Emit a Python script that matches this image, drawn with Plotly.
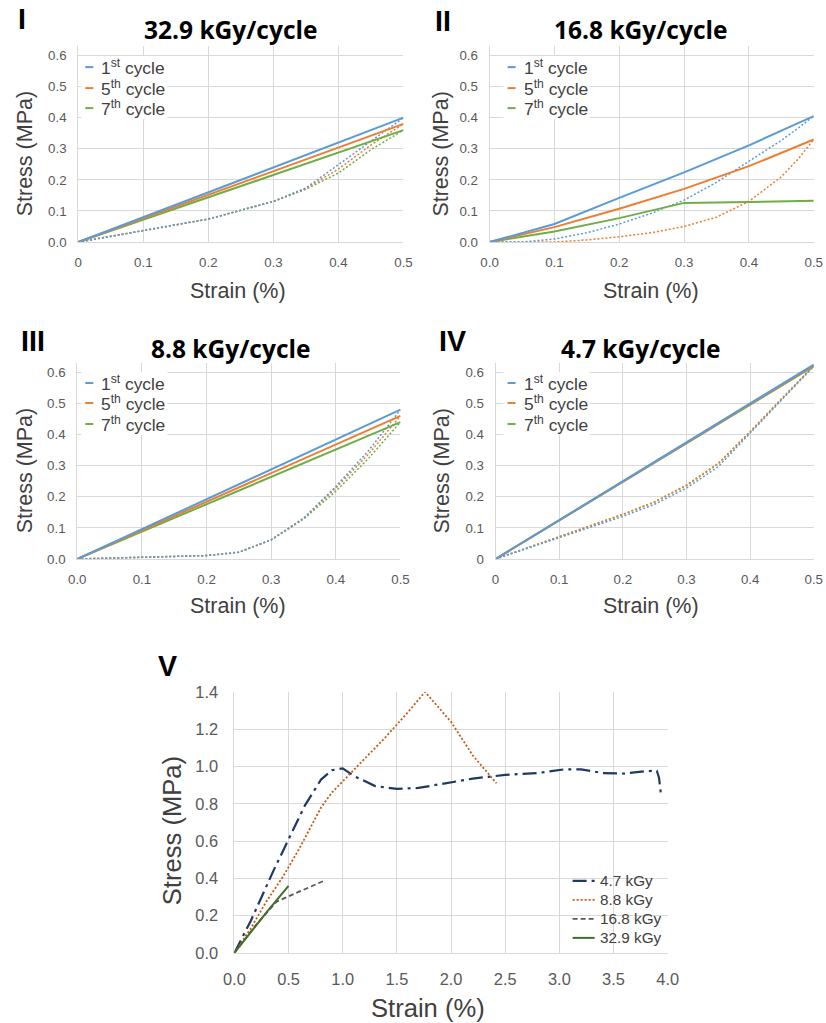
import plotly.graph_objects as go

# Layout positions below are given in final-image pixels (826x1023 frame).
# The page is laid out on an 849x1041 canvas (8px body margin) and shown in that frame,
# so positions and font sizes are converted through the frame scale.
FRAME_W, FRAME_H = 826, 1023
CANVAS_W, CANVAS_H = 849, 1041
SX, SY = FRAME_W / CANVAS_W, FRAME_H / CANVAS_H
OX = 3
PAD = 8
W, H = CANVAS_W - 2 * PAD, CANVAS_H - 2 * PAD
FS = 2 / (SX + SY)  # font scale

BLUE = "#5B9BD5"
ORANGE = "#ED7D31"
GREEN = "#70AD47"
GRID = "#D9D9D9"
TICK = "#595959"
TXT = "#404040"
SANS = "Liberation Sans, Arial, sans-serif"
TITLE_FONT = "Open Sans, sans-serif"

# ---------------- data ----------------
cycle_names = ["1<sup>st</sup> cycle", "5<sup>th</sup> cycle", "7<sup>th</sup> cycle"]
cycle_colors = [BLUE, ORANGE, GREEN]

# Panel I - 32.9 kGy/cycle
p1_load_strain = [0, 0.5]
p1_load = [[0, 0.40], [0, 0.38], [0, 0.36]]
p1_unload_strain = [0, 0.1, 0.2, 0.3, 0.35, 0.4, 0.45, 0.5]
p1_unload = [
    [0, 0.036, 0.074, 0.131, 0.174, 0.249, 0.324, 0.40],
    [0, 0.036, 0.074, 0.131, 0.172, 0.235, 0.312, 0.38],
    [0, 0.036, 0.074, 0.130, 0.170, 0.222, 0.297, 0.36],
]

# Panel II - 16.8 kGy/cycle
p2_load_strain = [0, 0.1, 0.2, 0.3, 0.4, 0.5]
p2_load = [
    [0, 0.058, 0.142, 0.224, 0.311, 0.405],
    [0, 0.048, 0.107, 0.171, 0.244, 0.330],
    [0, 0.034, 0.077, 0.126, 0.129, 0.133],
]
p2_unload_strain = [0, 0.05, 0.1, 0.15, 0.2, 0.25, 0.3, 0.35, 0.4, 0.45, 0.475, 0.5]
p2_unload = [
    [0, 0.0, 0.010, 0.030, 0.058, 0.093, 0.135, 0.192, 0.260, 0.327, 0.365, 0.405],
    [0, 0.0, 0.0, 0.007, 0.017, 0.030, 0.050, 0.080, 0.131, 0.210, 0.265, 0.330],
]

# Panel III - 8.8 kGy/cycle
p3_load_strain = [0, 0.5]
p3_load = [[0, 0.48], [0, 0.46], [0, 0.44]]
p3_unload_strain = [0, 0.1, 0.2, 0.25, 0.3, 0.35, 0.4, 0.45, 0.5]
p3_unload = [
    [0, 0.005, 0.011, 0.022, 0.062, 0.131, 0.233, 0.347, 0.48],
    [0, 0.005, 0.011, 0.022, 0.062, 0.130, 0.228, 0.336, 0.46],
    [0, 0.005, 0.011, 0.021, 0.061, 0.128, 0.218, 0.322, 0.44],
]

# Panel IV - 4.7 kGy/cycle
p4_load_strain = [0, 0.5]
p4_load = [[0, 0.625], [0, 0.622], [0, 0.620]]
p4_unload_strain = [0, 0.1, 0.2, 0.25, 0.3, 0.35, 0.4, 0.45, 0.5]
p4_unload = [
    [0, 0.069, 0.137, 0.176, 0.228, 0.297, 0.404, 0.512, 0.62],
    [0, 0.071, 0.144, 0.184, 0.238, 0.308, 0.410, 0.517, 0.622],
    [0, 0.071, 0.143, 0.183, 0.236, 0.306, 0.408, 0.515, 0.620],
]

# Panel V - stress-strain to failure
v_names = ["4.7 kGy", "8.8 kGy", "16.8 kGy", "32.9 kGy"]
v_47_strain = [0, 0.15, 0.36, 0.5, 0.65, 0.8, 0.9, 1.0, 1.1, 1.3, 1.5, 1.7, 1.9,
               2.2, 2.5, 2.8, 3.05, 3.2, 3.4, 3.6, 3.8, 3.9, 3.92, 3.94]
v_47_stress = [0, 0.17, 0.44, 0.61, 0.79, 0.93, 0.98, 0.99, 0.95, 0.895, 0.88, 0.885, 0.905,
               0.935, 0.955, 0.965, 0.985, 0.985, 0.965, 0.962, 0.975, 0.977, 0.94, 0.84]
v_88_strain = [0, 0.15, 0.3, 0.45, 0.6, 0.8, 0.9, 1.0, 1.2, 1.4, 1.6, 1.76, 2.0, 2.2, 2.42]
v_88_stress = [0, 0.13, 0.28, 0.41, 0.56, 0.78, 0.86, 0.92, 1.04, 1.16, 1.29, 1.40, 1.24, 1.06, 0.91]
v_168_strain = [0, 0.2, 0.39, 0.6, 0.82]
v_168_stress = [0, 0.15, 0.275, 0.33, 0.385]
v_329_strain = [0, 0.1, 0.3, 0.4, 0.5]
v_329_stress = [0, 0.075, 0.22, 0.29, 0.36]

V_STYLES = [
    dict(color="#203864", width=2.2, dash="14px,5px,3px,5px"),
    dict(color="#C55A11", width=1.8, dash="2px,2px"),
    dict(color="#595959", width=1.8, dash="5px,3px"),
    dict(color="#3F6F2A", width=2),
]


# ---------------- layout helpers (frame pixels -> paper fractions) ----------------
def px_x(p):
    return ((p - OX) / SX - PAD) / W


def px_y(p):
    return 1 - (p / SY - PAD) / H


def fs(size):
    return round(size * FS, 1)


def xaxis(left, right, anchor, ticktext, size=13, standoff=8, rng=(0, 0.5), step=0.1):
    vals = [round(i * step, 3) for i in range(len(ticktext))]
    return dict(domain=[px_x(left), px_x(right)], range=list(rng), anchor=anchor,
                tickvals=vals, ticktext=ticktext, showgrid=True, gridcolor=GRID,
                gridwidth=1, zeroline=False, showline=True, linecolor=GRID, linewidth=1,
                ticks="", ticklabelstandoff=standoff,
                tickfont=dict(family=SANS, size=fs(size), color=TICK), fixedrange=True)


def yaxis(bottom, top, anchor, ticktext, size=13, standoff=8, rng=(0, 0.63), step=0.1):
    vals = [round(i * step, 3) for i in range(len(ticktext))]
    return dict(domain=[px_y(bottom), px_y(top)], range=list(rng), anchor=anchor,
                tickvals=vals, ticktext=ticktext, showgrid=True, gridcolor=GRID,
                gridwidth=1, zeroline=False, showline=True, linecolor=GRID, linewidth=1,
                ticks="", ticklabelstandoff=standoff,
                tickfont=dict(family=SANS, size=fs(size), color=TICK), fixedrange=True)


fig = go.Figure()


def add_panel(xa, ya, load_x, loads, unload_x, unloads):
    # later cycles first so the 1st cycle sits on top
    for i in reversed(range(len(unloads))):
        fig.add_trace(go.Scatter(x=unload_x, y=unloads[i], mode="lines", xaxis=xa, yaxis=ya,
                                 line=dict(color=cycle_colors[i], width=1.5, dash="2px,2px"),
                                 showlegend=False, hoverinfo="skip"))
    for i in reversed(range(len(loads))):
        fig.add_trace(go.Scatter(x=load_x, y=loads[i], mode="lines", xaxis=xa, yaxis=ya,
                                 name=cycle_names[i],
                                 line=dict(color=cycle_colors[i], width=2),
                                 showlegend=False))


add_panel("x", "y", p1_load_strain, p1_load, p1_unload_strain, p1_unload)
add_panel("x2", "y2", p2_load_strain, p2_load, p2_unload_strain, p2_unload)
add_panel("x3", "y3", p3_load_strain, p3_load, p3_unload_strain, p3_unload)
add_panel("x4", "y4", p4_load_strain, p4_load, p4_unload_strain, p4_unload)

# Panel V traces
for name, xs, ys, st in zip(v_names,
                            [v_47_strain, v_88_strain, v_168_strain, v_329_strain],
                            [v_47_stress, v_88_stress, v_168_stress, v_329_stress],
                            V_STYLES):
    fig.add_trace(go.Scatter(x=xs, y=ys, mode="lines", xaxis="x5", yaxis="y5",
                             name=name, line=st, showlegend=False))

tk1 = ["0", "0.1", "0.2", "0.3", "0.4", "0.5"]
tk0 = ["0.0", "0.1", "0.2", "0.3", "0.4", "0.5"]
ty0 = ["0.0", "0.1", "0.2", "0.3", "0.4", "0.5", "0.6"]
ty1 = ["0", "0.1", "0.2", "0.3", "0.4", "0.5", "0.6"]

fig.update_layout(
    xaxis=xaxis(78, 403, "y", tk1),
    yaxis=yaxis(241, 45, "x", ty0),
    xaxis2=xaxis(489, 813, "y2", tk0),
    yaxis2=yaxis(241, 45, "x2", ty0),
    xaxis3=xaxis(77, 400, "y3", tk0),
    yaxis3=yaxis(558, 362, "x3", ty0),
    xaxis4=xaxis(495, 813, "y4", tk1),
    yaxis4=yaxis(558, 362, "x4", ty1),
    xaxis5=xaxis(234, 667, "y5", ["0.0", "0.5", "1.0", "1.5", "2.0", "2.5", "3.0", "3.5", "4.0"],
                 size=16, standoff=11, rng=(0, 4.0), step=0.5),
    yaxis5=yaxis(952, 691, "x5", ["0.0", "0.2", "0.4", "0.6", "0.8", "1.0", "1.2", "1.4"],
                 size=16, standoff=12, rng=(0, 1.4), step=0.2),
)

annotations = []
shapes = []


def text(x, y, s, size, color=TXT, family=SANS, angle=0, xanchor="center", yanchor="middle"):
    annotations.append(dict(x=px_x(x), y=px_y(y), xref="paper", yref="paper", text=s,
                            showarrow=False, textangle=angle, xanchor=xanchor,
                            yanchor=yanchor, font=dict(family=family, size=fs(size), color=color)))


def key_line(x0, x1, y, line):
    shapes.append(dict(type="line", xref="paper", yref="paper", layer="above",
                       x0=px_x(x0), x1=px_x(x1), y0=px_y(y), y1=px_y(y), line=line))


# Panel letters and titles
for lab, x, y in [("I", 22, 18), ("II", 442, 20), ("III", 33, 340), ("IV", 452, 340), ("V", 167, 665)]:
    text(x, y, "<b>%s</b>" % lab, 28, color="#000000")
for t, x, y in [("32.9 kGy/cycle", 230, 28), ("16.8 kGy/cycle", 640, 28),
                ("8.8 kGy/cycle", 230, 347), ("4.7 kGy/cycle", 640, 347)]:
    text(x, y, "<b>%s</b>" % t, 24, color="#000000", family=TITLE_FONT)

# Axis titles
for x, y in [(25, 153), (441, 153), (25, 470), (441, 470)]:
    text(x, y, "Stress (MPa)", 21, angle=-90)
for x, y in [(238, 290), (650, 290), (238, 605), (650, 605)]:
    text(x, y, "Strain (%)", 21)
text(172, 830, "Stress (MPa)", 25, angle=-90)
text(427, 1007, "Strain (%)", 25)

# Per-panel cycle keys
for lx, rows in [(85, (66, 87, 107)), (507, (66, 87, 107)), (85, (382, 402, 423)), (507, (382, 402, 423))]:
    shapes.append(dict(type="rect", xref="paper", yref="paper", layer="above",
                       x0=px_x(lx - 4), x1=px_x(lx + 82), y0=px_y(rows[0] - 11), y1=px_y(rows[2] + 11),
                       fillcolor="white", line=dict(width=0)))
    for i, ry in enumerate(rows):
        key_line(lx, lx + 8, ry, dict(color=cycle_colors[i], width=2))
        text(lx + 14, ry, cycle_names[i], 17, xanchor="left")

# Panel V key
for i, ry in enumerate([880, 899, 918, 937]):
    key_line(572, 594, ry, V_STYLES[i])
    text(597, ry, v_names[i], 15, xanchor="left")

fig.update_layout(
    width=W, height=H,
    margin=dict(l=0, r=0, t=0, b=0),
    paper_bgcolor="white", plot_bgcolor="white",
    annotations=annotations, shapes=shapes,
    showlegend=False,
)

fig.write_html("out.html")
